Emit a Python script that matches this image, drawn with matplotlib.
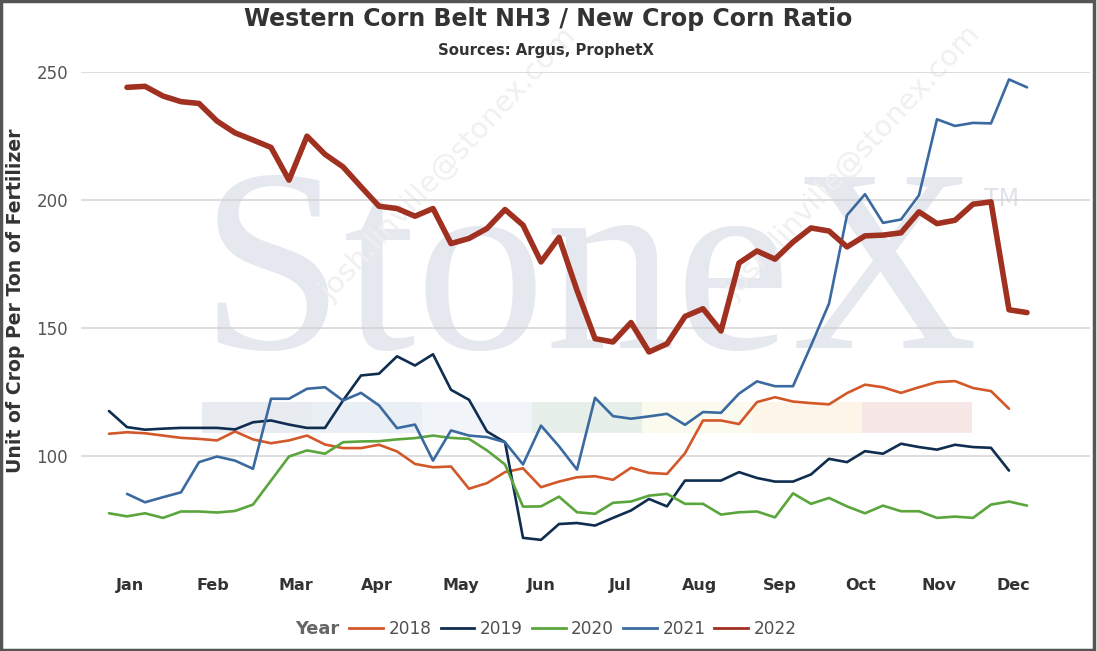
import numpy as np
import matplotlib
matplotlib.use("Agg")
import matplotlib.pyplot as plt
from matplotlib.lines import Line2D
from matplotlib.patches import Rectangle

# ---------------- data ----------------
months = ["Jan", "Feb", "Mar", "Apr", "May", "Jun", "Jul", "Aug", "Sep", "Oct", "Nov", "Dec"]
month_tick_weeks = [2.17, 6.78, 11.39, 15.89, 20.56, 25.0, 29.39, 33.83, 38.28, 42.78, 47.11, 51.22]
y_ticks = [100, 150, 200, 250]

years = ["2018", "2019", "2020", "2021", "2022"]
first_week = [1, 1, 1, 2, 2]

vals_2018 = [108.5, 109.1, 108.7, 107.8, 106.9, 106.5, 105.9, 109.4, 106.3, 104.8,
             105.9, 107.8, 104.3, 102.9, 102.9, 104.2, 101.6, 96.7, 95.4, 95.7,
             87.0, 89.2, 93.5, 95.0, 87.6, 89.8, 91.5, 91.9, 90.5, 95.2,
             93.2, 92.8, 100.9, 113.7, 113.7, 112.3, 120.9, 122.8, 121.1, 120.5,
             120.0, 124.4, 127.7, 126.7, 124.5, 126.7, 128.7, 129.1, 126.4, 125.2, 118.3]
vals_2019 = [117.4, 111.1, 110.1, 110.5, 110.8, 110.8, 110.8, 110.2, 113.0, 113.7,
             112.1, 110.8, 110.8, 121.5, 131.3, 132.0, 138.8, 135.2, 139.6, 125.7,
             121.8, 109.4, 105.2, 67.8, 67.0, 73.2, 73.6, 72.6, 75.6, 78.5,
             83.0, 80.1, 90.2, 90.2, 90.2, 93.5, 91.2, 89.8, 89.8, 92.6,
             98.7, 97.4, 101.7, 100.7, 104.6, 103.3, 102.3, 104.2, 103.3, 103.0, 94.1]
vals_2020 = [77.4, 76.2, 77.4, 75.6, 78.1, 78.1, 77.7, 78.3, 80.8, 90.2,
             99.6, 102.0, 100.7, 105.2, 105.5, 105.6, 106.3, 106.8, 107.8, 106.9,
             106.5, 102.0, 96.5, 80.0, 80.1, 83.9, 77.8, 77.2, 81.5, 82.0,
             84.3, 85.0, 81.1, 81.1, 76.9, 77.8, 78.1, 75.8, 85.2, 81.1,
             83.4, 80.1, 77.4, 80.4, 78.2, 78.2, 75.6, 76.1, 75.6, 80.8, 82.0, 80.4]
vals_2021 = [85.0, 81.7, 83.7, 85.6, 97.4, 99.6, 98.0, 94.8, 122.2, 122.2,
             126.1, 126.7, 121.5, 124.5, 119.6, 110.7, 112.1, 98.0, 109.8, 107.8,
             107.2, 105.2, 96.5, 111.7, 103.6, 94.5, 122.6, 115.4, 114.4, 115.3,
             116.3, 112.0, 117.0, 116.7, 124.2, 129.0, 127.1, 127.1, 143.0, 159.4,
             194.0, 202.2, 191.0, 192.3, 201.8, 231.5, 228.9, 230.1, 229.9, 247.1, 244.0]
vals_2022 = [244.0, 244.4, 240.6, 238.4, 237.7, 230.8, 226.2, 223.4, 220.5, 207.7,
             224.9, 217.8, 212.9, 205.1, 197.5, 196.6, 193.6, 196.6, 182.9, 184.9,
             188.8, 196.2, 190.1, 175.7, 185.3, 164.6, 145.7, 144.4, 152.0, 140.5,
             143.7, 154.4, 157.4, 148.7, 175.3, 180.0, 176.8, 183.5, 189.0, 187.8,
             181.6, 185.9, 186.2, 187.1, 195.3, 190.7, 192.0, 198.3, 199.2, 157.0, 155.9]

series_vals = [vals_2018, vals_2019, vals_2020, vals_2021, vals_2022]
colors = ["#d2582a", "#0f2d4f", "#5aa53c", "#3a6aa0", "#a03020"]
widths = [1.9, 1.9, 1.9, 1.9, 4.0]

# ---------------- figure ----------------
W, H = 1097, 651
fx = lambda px: px / W
fy = lambda py: 1 - py / H

fig = plt.figure(figsize=(W / 100, H / 100), dpi=100)
fig.patch.set_facecolor("white")

# watermark: colored band, StoneX logo, email
band_colors = ["#e8ebf0", "#eaeff5", "#f1f4f8", "#e7efea", "#fafaee", "#fdf5e7", "#f7e8e8"]
for i, c in enumerate(band_colors):
    fig.patches.append(Rectangle((fx(202 + 110 * i), fy(433)), 110 / W, 31 / H,
                                 transform=fig.transFigure, facecolor=c,
                                 edgecolor="none", zorder=-3))
fig.text(fx(200), fy(348), "StoneX", fontsize=187, family="Liberation Serif",
         color="#e5e8ee", ha="left", va="baseline", zorder=-2)
fig.text(fx(984), fy(206), "TM", fontsize=17, family="DejaVu Sans",
         color="#dfe3e9", ha="left", va="baseline", zorder=-2)
for (sx, sy) in [(331, 302), (735, 300)]:
    fig.text(fx(sx), fy(sy), "josh.linville@stonex.com", fontsize=21,
             family="DejaVu Sans", color="#f0f0f0", rotation=47,
             rotation_mode="anchor", ha="left", va="baseline", zorder=-2)

ax = fig.add_axes([fx(81), fy(568), 1009 / W, 496 / H])
ax.set_facecolor("none")

for yr, fw, vals, c, lw in zip(years, first_week, series_vals, colors, widths):
    x = np.arange(len(vals)) + fw
    ax.plot(x, vals, color=c, lw=lw, solid_joinstyle="round",
            solid_capstyle="round", zorder=3)

ax.set_xlim(-0.556, 55.5)
ax.set_ylim(56, 250)
ax.set_xticks(month_tick_weeks)
ax.set_xticklabels(months, fontsize=11.5, fontweight="bold", color="#333333")
ax.set_yticks(y_ticks)
ax.set_yticklabels([str(v) for v in y_ticks], fontsize=12, color="#555555")
ax.tick_params(axis="x", length=0, pad=7)
ax.tick_params(axis="y", length=0, pad=9.4)
ax.grid(axis="y", color="#d3d3d3", lw=1.1)
ax.set_axisbelow(True)
for s in ax.spines.values():
    s.set_visible(False)

# titles
fig.text(fx(548.5), fy(26), "Western Corn Belt NH3 / New Crop Corn Ratio",
         fontsize=17, fontweight="bold", color="#333333", ha="center", va="baseline")
fig.text(fx(546.5), fy(55), "Sources: Argus, ProphetX",
         fontsize=10.7, fontweight="bold", color="#333333", ha="center", va="baseline")
fig.text(fx(16), fy(301), "Unit of Crop Per Ton of Fertilizer", rotation=90,
         fontsize=13.6, fontweight="bold", color="#333333", ha="center", va="center")

# legend
handles = [Line2D([], [], color=c, lw=2.0) for c in colors]
fig.legend(handles, years, loc="center", bbox_to_anchor=(fx(573), fy(628.5)),
           ncol=5, frameon=False, fontsize=12.2, handlelength=2.0,
           handletextpad=0.32, columnspacing=0.53, borderpad=0,
           labelcolor="#505050")
fig.text(fx(339), fy(628.5), "Year", fontsize=12.9, fontweight="bold",
         color="#666666", ha="right", va="center")

# chart border
fig.patches.append(Rectangle((0.001, 0.002), 0.996, 0.996, transform=fig.transFigure,
                             facecolor="none", edgecolor="#555555", lw=2.5, zorder=10))

fig.savefig("out.png", dpi=100)
